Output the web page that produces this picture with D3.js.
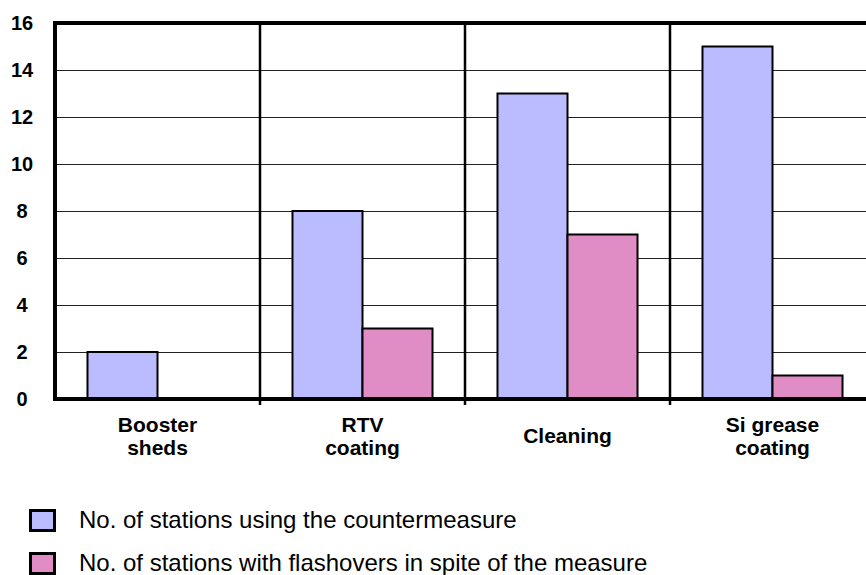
<!DOCTYPE html>
<html>
<head>
<meta charset="utf-8">
<script src="https://cdn.jsdelivr.net/npm/d3@7"></script>
<style>
  html, body { margin: 0; padding: 0; background: #fff; }
  svg { display: block; font-family: "Liberation Sans", Arial, sans-serif; }
</style>
</head>
<body>
<svg id="chart" width="866" height="575"></svg>
<script>
const categories = [["Booster", "sheds"], ["RTV", "coating"], ["Cleaning"], ["Si grease", "coating"]];
const stationsUsing = [2, 8, 13, 15];
const stationsFlashover = [0, 3, 7, 1];
const seriesNames = ["No. of stations using the countermeasure", "No. of stations with flashovers in spite of the measure"];
const seriesColors = ["#BBBBFF", "#E08DC6"];
const yTicks = [0, 2, 4, 6, 8, 10, 12, 14, 16];

(function () {
const svg = d3.select("#chart");
const plotLeft = 55, plotTop = 23, plotBottom = 399, plotRight = 875;

const x = d3.scaleBand().domain(d3.range(categories.length)).range([plotLeft, plotRight]).paddingInner(0).paddingOuter(0);
const xs = d3.scaleBand().domain([0, 1]).range([0, x.bandwidth()]).paddingInner(0).paddingOuter(0.464);
const y = d3.scaleLinear().domain([0, 16]).range([plotBottom, plotTop]);

// gridlines
svg.append("g").selectAll("line").data(yTicks.filter(t => t > 0 && t < 16)).join("line")
  .attr("x1", plotLeft).attr("x2", 866)
  .attr("y1", d => Math.round(y(d)) + 0.5).attr("y2", d => Math.round(y(d)) + 0.5)
  .attr("stroke", "#222").attr("stroke-width", 1);

// category separators
svg.append("g").selectAll("line").data(d3.range(1, categories.length)).join("line")
  .attr("x1", d => x(d)).attr("x2", d => x(d))
  .attr("y1", plotTop).attr("y2", plotBottom + 6)
  .attr("stroke", "#000").attr("stroke-width", 2.5);

// bars
const series = [stationsUsing, stationsFlashover];
series.forEach((vals, si) => {
  svg.append("g").selectAll("rect").data(vals.map((v, i) => ({ v, i })).filter(d => d.v > 0)).join("rect")
    .attr("x", d => x(d.i) + xs(si))
    .attr("y", d => y(d.v))
    .attr("width", xs.bandwidth())
    .attr("height", d => y(0) - y(d.v))
    .attr("fill", seriesColors[si])
    .attr("stroke", "#000").attr("stroke-width", 2);
});

// borders
svg.append("line").attr("x1", plotLeft).attr("x2", 866).attr("y1", y(16)).attr("y2", y(16))
  .attr("stroke", "#000").attr("stroke-width", 4);
svg.append("line").attr("x1", plotLeft).attr("x2", 866).attr("y1", y(0)).attr("y2", y(0))
  .attr("stroke", "#000").attr("stroke-width", 4);
svg.append("line").attr("x1", plotLeft).attr("x2", plotLeft).attr("y1", y(16) - 2).attr("y2", y(0) + 2)
  .attr("stroke", "#000").attr("stroke-width", 4);

// y tick labels
svg.append("g").selectAll("text").data(yTicks).join("text")
  .attr("x", 22).attr("y", d => y(d))
  .attr("dy", "0.33em")
  .attr("text-anchor", "middle")
  .attr("font-size", 20).attr("font-weight", "bold").attr("fill", "#000")
  .text(d => d);

// x labels
const xl = svg.append("g").selectAll("text").data(categories).join("text")
  .attr("text-anchor", "middle")
  .attr("font-size", 21).attr("font-weight", "bold").attr("fill", "#000")
  .attr("x", (d, i) => x(i) + x.bandwidth() / 2)
  .attr("y", d => d.length === 1 ? 443 : 432);
xl.selectAll("tspan").data(d => d).join("tspan")
  .attr("x", function () { return this.parentNode.getAttribute("x"); })
  .attr("dy", (d, i) => i === 0 ? 0 : 23)
  .text(d => d);

// legend
const lg = svg.append("g").selectAll("g").data(seriesNames).join("g")
  .attr("transform", (d, i) => `translate(0, ${i * 43})`);
lg.append("rect").attr("x", 30.5).attr("y", 510.5).attr("width", 24).attr("height", 20)
  .attr("fill", (d, i) => seriesColors[i]).attr("stroke", "#000").attr("stroke-width", 3);
lg.append("text").attr("x", 79).attr("y", 528)
  .attr("font-size", 24).attr("fill", "#000")
  .text(d => d);
})();
</script>
</body>
</html>
